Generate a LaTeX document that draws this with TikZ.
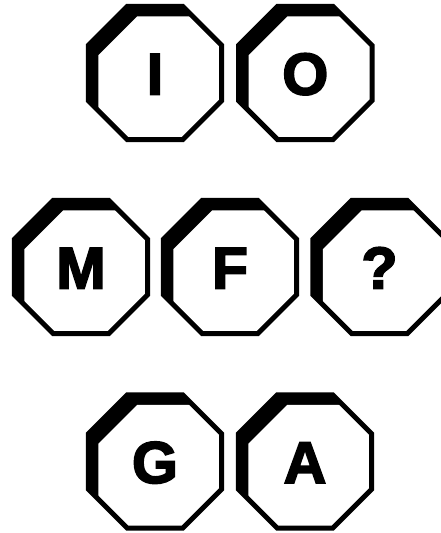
\documentclass[tikz,border=0pt]{standalone}
\usepackage{fontspec}
\setmainfont{Liberation Sans}[BoldFeatures={FakeBold=3}]
\begin{document}
\begin{tikzpicture}[x=1pt,y=1pt,
  lettr/.style={font=\fontsize{59}{59}\selectfont\bfseries, inner sep=0pt, anchor=base},
  pics/octbox/.style={code={
    \def\octR{66.7}\def\octA{27.6}
    \fill[black] (-\octA,\octR) -- (\octA,\octR) -- (\octR,\octA) -- (\octR,-\octA) -- (\octA,-\octR) -- (-\octA,-\octR) -- (-\octR,-\octA) -- (-\octR,\octA) -- cycle;
    \begin{scope}
      \clip (-\octA,\octR) -- (\octA,\octR) -- (\octR,\octA) -- (\octR,-\octA) -- (\octA,-\octR) -- (-\octA,-\octR) -- (-\octR,-\octA) -- (-\octR,\octA) -- cycle;
      \fill[white, shift={(10,-10)}] (-\octA,\octR) -- (\octA,\octR) -- (\octR,\octA) -- (\octR,-\octA) -- (\octA,-\octR) -- (-\octA,-\octR) -- (-\octR,-\octA) -- (-\octR,\octA) -- cycle;
    \end{scope}
    \draw[line width=5pt, line join=miter] (-\octA,\octR) -- (\octA,\octR) -- (\octR,\octA) -- (\octR,-\octA) -- (\octA,-\octR) -- (-\octA,-\octR) -- (-\octR,-\octA) -- (-\octR,\octA) -- cycle;
    \node[lettr] (-l) at (0,-21.5) {#1};
  }}]
\useasboundingbox (0,0) rectangle (440,533);
\fill[white] (0,0) rectangle (440,533);
\pic (I) at (155,460) {octbox=I};
\pic (O) at (305.3,460) {octbox=O};
\pic (M) at (81,266) {octbox=M};
\pic (F) at (230,266) {octbox=F};
\pic (Q) at (379.5,266) {octbox=?};
\pic (G) at (155,71.5) {octbox=G};
\pic (A) at (305,71.5) {octbox=A};
\end{tikzpicture}
\end{document}
